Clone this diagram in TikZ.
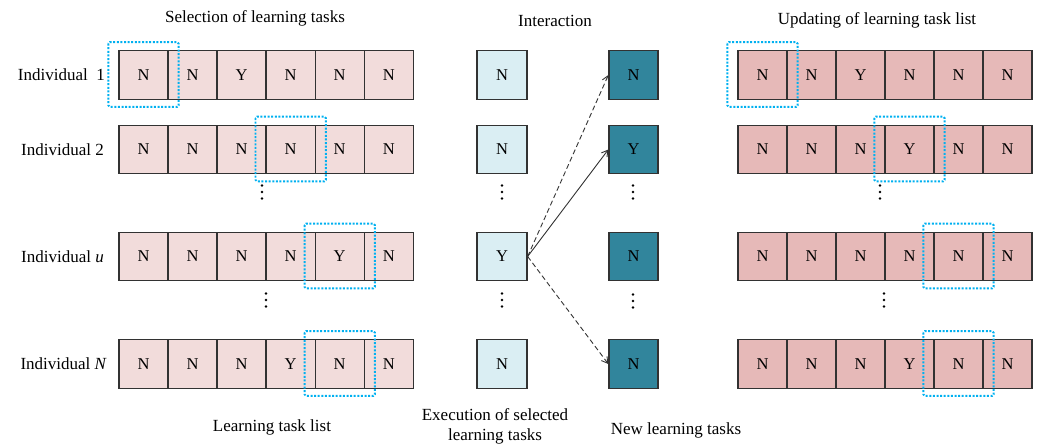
\documentclass[tikz,border=0pt]{standalone}
\usepackage{fontspec}
\setmainfont{Liberation Serif}
\usetikzlibrary{calc,arrows.meta}
\definecolor{lpink}{RGB}{242,220,219}
\definecolor{dpink}{RGB}{230,185,184}
\definecolor{lblue}{RGB}{218,238,243}
\definecolor{tealbox}{RGB}{49,133,156}
\definecolor{selblue}{RGB}{0,176,240}
\definecolor{edgegray}{RGB}{50,50,50}
\begin{document}
\begin{tikzpicture}[x=1pt,y=-1pt,
  cell/.style={draw=edgegray, line width=1.3pt, minimum width=49pt, minimum height=48.5pt, inner sep=0pt, font=\fontsize{16.5}{18}\selectfont},
  lcell/.style={cell, fill=lpink},
  rcell/.style={cell, fill=dpink},
  mcell/.style={cell, fill=lblue, minimum width=50pt},
  tcell/.style={cell, fill=tealbox},
  sel/.style={draw=selblue, line width=1.9pt, dash pattern=on 2pt off 1.6pt, rounded corners=1.5pt},
  lab/.style={font=\fontsize{17}{20}\selectfont, inner sep=0pt},
  conn/.style={-{Straight Barb[length=6pt,width=7pt]}, line width=0.9pt, draw=edgegray},
  vdot/.style={fill=black}
]
\useasboundingbox (0,0) rectangle (1037,445);

% titles
\node[lab] (t1) at (255,18) {Selection of learning tasks};
\node[lab] (t2) at (555,21) {Interaction};
\node[lab] (t3) at (877,20) {Updating of learning task list};

% left rows
\foreach \r/\y/\vals in {1/75/{N,N,Y,N,N,N}, 2/149.5/{N,N,N,N,N,N}, u/256.5/{N,N,N,N,Y,N}, N/364/{N,N,N,Y,N,N}}{
  \foreach \v [count=\i] in \vals {
    \node[lcell] (L\r c\i) at ({119+24.5+49.05*(\i-1)},\y) {\v};
  }
}
% right rows
\foreach \r/\y/\vals in {1/75/{N,N,Y,N,N,N}, 2/149.5/{N,N,N,Y,N,N}, u/256.5/{N,N,N,N,N,N}, N/364/{N,N,N,Y,N,N}}{
  \foreach \v [count=\i] in \vals {
    \node[rcell] (R\r c\i) at ({738+24.5+49*(\i-1)},\y) {\v};
  }
}
% middle columns
\node[mcell] (M1) at (502,75) {N};
\node[mcell] (M2) at (502,149.5) {N};
\node[mcell] (Mu) at (502,256.5) {Y};
\node[mcell] (MN) at (502,364) {N};
\node[tcell] (T1) at (633.5,75) {N};
\node[tcell] (T2) at (633.5,149.5) {Y};
\node[tcell] (Tu) at (633.5,256.5) {N};
\node[tcell] (TN) at (633.5,364) {N};

% row labels
\node[lab, anchor=east] (n1) at (105,75) {Individual\ \ 1};
\node[lab, anchor=east] (n2) at (104,149.5) {Individual 2};
\node[lab, anchor=east] (nu) at (104,256.5) {Individual \textit{u}};
\node[lab, anchor=east] (nN) at (107,364) {Individual \textit{N}};

% selection boxes
\foreach \c in {L1c1, L2c4, Luc5, LNc5, R1c1, R2c4, Ruc5, RNc5}{
  \draw[sel] ($(\c.north west)+(-10,-8)$) rectangle ($(\c.south east)+(10,7)$);
}

% vertical ellipses
\foreach \x/\y in {262/192, 266/300, 502/192, 502/300, 633/192, 633/301, 880/192, 884/300}{
  \foreach \d in {-6.5,0,6.5}{
    \fill[vdot] (\x,\y+\d) circle (1.4);
  }
}

% connectors
\draw[conn, dash pattern=on 5pt off 3pt] (Mu.east) -- (T1.west);
\draw[conn] (Mu.east) -- (T2.west);
\draw[conn, dash pattern=on 5pt off 3pt] (Mu.east) -- (TN.west);

% bottom labels
\node[lab] (b1) at (272,427) {Learning task list};
\node[lab, align=center] (b2) at (495,426) {Execution of selected\\learning tasks};
\node[lab] (b3) at (676,430) {New learning tasks};
\end{tikzpicture}
\end{document}
